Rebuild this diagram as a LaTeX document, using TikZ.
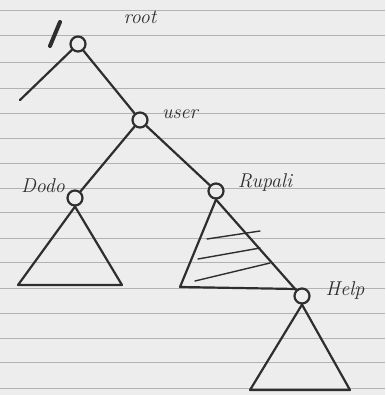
\documentclass[tikz,border=0pt]{standalone}
\begin{document}
\begin{tikzpicture}[x=1pt,y=-1pt,
  ink/.style={draw=black!82, line width=2.2pt, line cap=round, line join=round},
  knot/.style={circle, draw=black!82, line width=2.2pt, minimum size=15pt, inner sep=0pt},
  lbl/.style={font=\fontsize{20}{20}\selectfont\itshape, text=black!82, inner sep=0pt},
  rule/.style={draw=black!30, line width=0.8pt}]
\fill[black!7] (0,0) rectangle (385,395);
\useasboundingbox (0,0) rectangle (385,395);
\foreach \y in {10,35,62,88,113,138,163,188,212,238,262,288,313,338,362,388}
  \draw[rule] (0,\y) -- (385,\y);
% nodes
\node[knot] (root) at (78,44) {};
\node[knot] (user) at (140,120) {};
\node[knot] (dodo) at (75,198) {};
\node[knot] (rupali) at (216,191) {};
\node[knot] (help) at (302,296) {};
\coordinate (leftend) at (20,100);
% labels
\node[lbl] (lroot) at (140,17) {root};
\node[lbl] (luser) at (180,114) {user};
\node[lbl] (ldodo) at (43,186) {Dodo};
\node[lbl] (lrupali) at (265,182) {Rupali};
\node[lbl] (lhelp) at (345,290) {Help};
% slash mark
\draw[ink, line width=4pt] (50,46) -- (60,22);
% edges
\draw[ink] (root) -- (leftend);
\draw[ink] (root) -- (user);
\draw[ink] (user) -- (dodo);
\draw[ink] (user) -- (rupali);
% triangles
\draw[ink] (dodo.south) -- (18,285) -- (122,285) -- cycle;
\draw[ink] (rupali.south) -- (180,287) -- (296,289);
\draw[ink] (rupali.south) -- (help.north west);
\draw[ink] (help.south) -- (250,390) -- (350,390) -- cycle;
% hatching
\draw[ink, line width=1.4pt] (207,239) -- (260,231);
\draw[ink, line width=1.4pt] (198,259) -- (260,248);
\draw[ink, line width=1.4pt] (195,281) -- (270,263);
\end{tikzpicture}
\end{document}
